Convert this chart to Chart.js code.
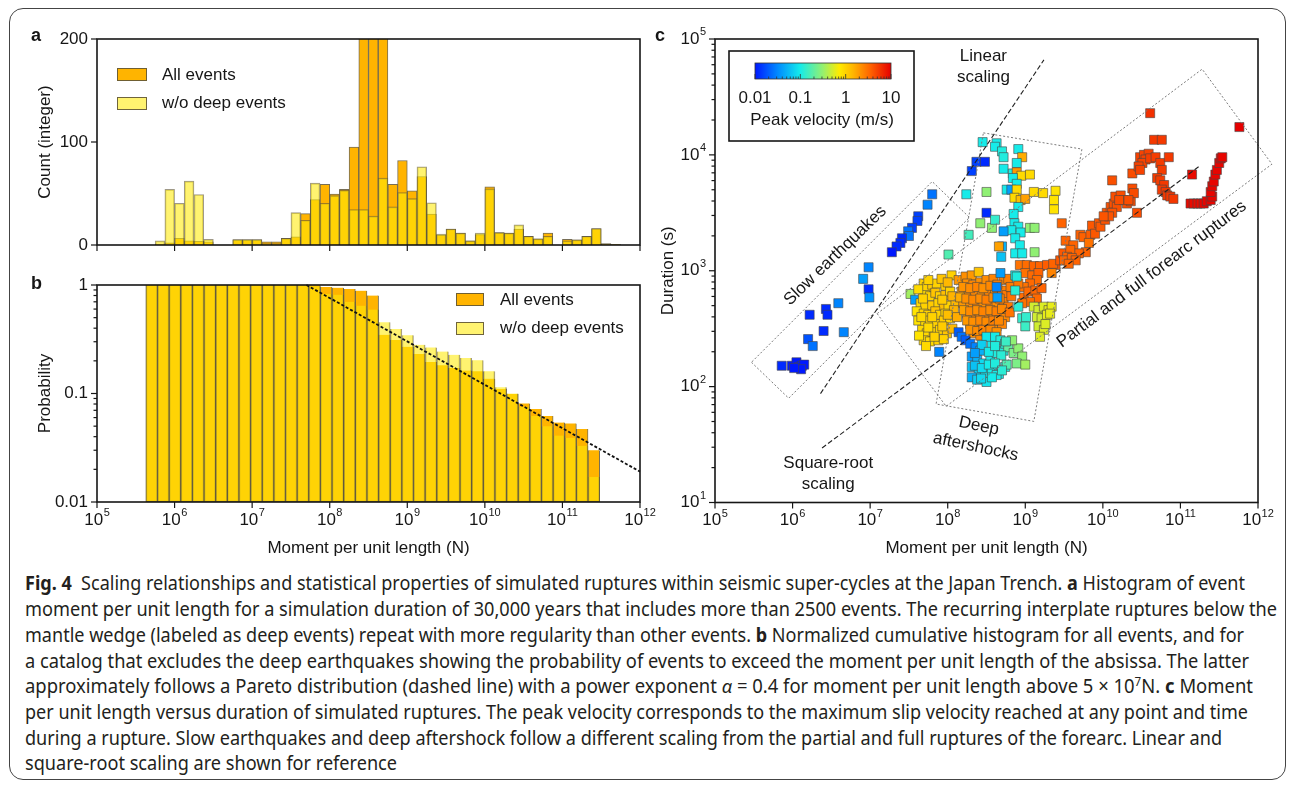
<!DOCTYPE html>
<html>
<head>
<meta charset="utf-8">
<title>Fig. 4</title>
<script src="https://cdn.jsdelivr.net/npm/chart.js@4.4.1/dist/chart.umd.min.js"></script>
<style>
  html, body { margin: 0; padding: 0; background: #fff; }
  body { width: 1295px; height: 789px; position: relative; overflow: hidden; }
  #frame { position: absolute; left: 9px; top: 8px; width: 1277px; height: 772px; border: 1px solid #444; border-radius: 14px; box-sizing: border-box; }
  canvas { position: absolute; }
  #histA { left: 0; top: 0; width: 660px; height: 270px; }
  #cumB { left: 0; top: 270px; width: 660px; height: 300px; }
  #scatC { left: 640px; top: 0; width: 655px; height: 570px; }
  .cap { position: absolute; left: 25px; white-space: nowrap; font-family: "Noto Sans", "Open Sans", sans-serif; font-size: 19px; line-height: 24px; color: #231f20; transform-origin: 0 50%; }
  .cap b { font-weight: 700; }
</style>
</head>
<body>
<div id="frame"></div>
<canvas id="histA" width="660" height="270"></canvas>
<canvas id="cumB" width="660" height="300"></canvas>
<canvas id="scatC" width="655" height="570"></canvas>

<div class="cap" data-w="1220" style="top:571px"><b>Fig. 4</b>&nbsp; Scaling relationships and statistical properties of simulated ruptures within seismic super-cycles at the Japan Trench. <b>a</b> Histogram of event</div>
<div class="cap" data-w="1252" style="top:597px">moment per unit length for a simulation duration of 30,000 years that includes more than 2500 events. The recurring interplate ruptures below the</div>
<div class="cap" data-w="1219" style="top:623px">mantle wedge (labeled as deep events) repeat with more regularity than other events. <b>b</b> Normalized cumulative histogram for all events, and for</div>
<div class="cap" data-w="1224" style="top:649px">a catalog that excludes the deep earthquakes showing the probability of events to exceed the moment per unit length of the absissa. The latter</div>
<div class="cap" data-w="1228" style="top:674px">approximately follows a Pareto distribution (dashed line) with a power exponent <i>α</i> = 0.4 for moment per unit length above 5 × 10<sup style="font-size:12px;line-height:0">7</sup>N. <b>c</b> Moment</div>
<div class="cap" data-w="1223" style="top:700px">per unit length versus duration of simulated ruptures. The peak velocity corresponds to the maximum slip velocity reached at any point and time</div>
<div class="cap" data-w="1197" style="top:726px">during a rupture. Slow earthquakes and deep aftershock follow a different scaling from the partial and full ruptures of the forearc. Linear and</div>
<div class="cap" data-w="372" style="top:751px">square-root scaling are shown for reference</div>

<script>
const FONT = '"Liberation Sans", Arial, Helvetica, sans-serif';
const INK = '#161616';
const ORANGE = '#ffb400';
const YELLOW = 'rgba(255,234,9,0.58)';
const EDGE = 'rgba(95,85,55,0.85)';
const EDGE2 = 'rgba(95,85,55,0.6)';
Chart.defaults.font.family = FONT;

// ---------- a: histogram, log10 of moment per unit length (bin left edges)
const histEdges = [5.75, 5.875, 6.0, 6.125, 6.25, 6.375, 6.5, 6.625, 6.75, 6.875, 7.0, 7.125, 7.25, 7.375, 7.5, 7.625, 7.75, 7.875, 8.0, 8.125, 8.25, 8.375, 8.5, 8.625, 8.75, 8.875, 9.0, 9.125, 9.25, 9.375, 9.5, 9.625, 9.75, 9.875, 10.0, 10.125, 10.25, 10.375, 10.5, 10.625, 10.75, 10.875, 11.0, 11.125, 11.25, 11.375, 11.5, 11.625];
const countAll = [1, 2, 6.5, 4, 3.5, 3, 0, 0, 4.5, 4.5, 4.5, 3, 3, 6.5, 8, 30.5, 44, 59, 49.5, 54, 95, 480, 620, 560, 59, 82, 52.5, 66.5, 30, 9.5, 15.5, 11.5, 4, 10, 56.5, 12, 11.5, 15.5, 8.5, 6, 11.5, 0, 5.5, 5, 8.5, 16, 1.5, 0.5];
const countNoDeep = [4, 54, 40.5, 62, 49, 5.5, 0, 0, 5.5, 5.5, 5.5, 1.5, 1.5, 6.5, 31.5, 24, 60, 40.5, 48, 53, 34.5, 34.5, 28, 65, 37, 51, 45, 76, 41, 10.5, 15.5, 11.5, 4, 11.5, 54.5, 12, 11.5, 19.5, 8.5, 6, 8.5, 0, 4, 5, 8.5, 16, 1, 0.5];
const countTicks = [0, 100, 200];

// ---------- b: cumulative histogram (probability to exceed)
const cumEdges = [5.63, 5.78, 5.93, 6.08, 6.23, 6.38, 6.53, 6.68, 6.83, 6.98, 7.13, 7.28, 7.43, 7.58, 7.73, 7.88, 8.03, 8.18, 8.33, 8.48, 8.63, 8.78, 8.93, 9.08, 9.23, 9.38, 9.53, 9.68, 9.83, 9.98, 10.13, 10.28, 10.43, 10.58, 10.73, 10.88, 11.03, 11.18, 11.33];
const probAll = [1, 1, 1, 1, 1, 1, 1, 1, 1, 1, 1, 1, 1, 1, 0.995, 0.96, 0.945, 0.92, 0.887, 0.80, 0.347, 0.312, 0.269, 0.231, 0.195, 0.182, 0.172, 0.163, 0.160, 0.137, 0.110, 0.099, 0.081, 0.072, 0.062, 0.054, 0.053, 0.047, 0.030];
const probNoDeep = [1, 1, 1, 1, 1, 1, 1, 1, 1, 1, 1, 1, 1, 1, 0.975, 0.83, 0.815, 0.70, 0.645, 0.593, 0.454, 0.394, 0.345, 0.281, 0.266, 0.244, 0.227, 0.212, 0.202, 0.160, 0.114, 0.100, 0.075, 0.062, 0.050, 0.041, 0.039, 0.033, 0.017];
const probTicks = [0, -1, -2];
const probLabels = ['1', '0.1', '0.01'];
const paretoStart = 7.7;   // log10(5e7 N)
const paretoAlpha = 0.4;

const momentDecades = [5, 6, 7, 8, 9, 10, 11, 12];

// ---------- c: ruptures [log10 moment, log10 duration, peak velocity m/s]
const slowQuakes = [
  [7.80,3.66,0.025],[7.74,3.57,0.03],[7.62,3.47,0.015],[7.61,3.43,0.015],[7.54,3.37,0.015],[7.49,3.34,0.025],[7.50,3.30,0.025],
  [7.41,3.28,0.012],[7.39,3.24,0.012],[7.34,3.21,0.012],[7.28,3.16,0.01],[6.98,3.03,0.03],[6.91,2.93,0.04],[6.98,2.84,0.012],
  [6.99,2.77,0.035],[6.59,2.72,0.03],[6.43,2.67,0.012],[6.45,2.62,0.012],[6.22,2.62,0.012],[6.40,2.48,0.012],[6.66,2.47,0.03],
  [6.20,2.41,0.018],[6.26,2.35,0.025],[5.86,2.18,0.012],[5.99,2.18,0.01],[6.05,2.21,0.01],[6.08,2.17,0.01],[6.12,2.18,0.01],
  [6.15,2.19,0.01],[6.11,2.15,0.01],[6.02,2.16,0.01]
];
const upperColumn = [
  [8.37,3.94,0.015],[8.48,3.94,0.012],[8.31,3.86,0.015],[8.50,3.50,0.012],
  [8.45,4.11,0.1],[8.63,4.10,0.1],[8.61,4.07,0.1],[8.70,4.03,0.11],[8.72,3.98,0.11],[8.91,4.05,0.1],[8.96,3.98,1.6],
  [8.89,3.93,0.1],[8.72,3.88,0.1],[8.84,3.84,0.11],[8.89,3.85,2.0],[8.95,3.82,0.9],[9.06,3.83,0.9],[8.84,3.80,0.1],
  [8.89,3.75,0.1],[8.76,3.70,0.1],[8.82,3.70,0.04],[8.89,3.70,0.9],[8.86,3.63,0.9],[8.94,3.61,1.3],[9.00,3.62,1.8],
  [9.11,3.68,0.9],[9.23,3.67,0.9],[9.39,3.69,0.8],[9.37,3.61,0.8],[9.37,3.53,0.8],[8.91,3.55,0.1],[8.85,3.49,0.1],
  [8.86,3.41,0.1],[8.91,3.38,0.1],[8.82,3.35,0.1],[8.94,3.33,0.1],[8.87,3.28,0.1],[8.93,3.22,0.1],[8.87,3.15,0.1],
  [8.96,3.15,0.1],[8.72,3.34,0.04],[8.70,3.21,0.05],[8.66,3.21,1.8],[8.69,3.12,0.06],[9.06,3.37,0.3],[9.12,3.37,0.3],
  [8.57,3.37,0.3],[8.42,3.41,0.3],[8.50,3.68,0.3],[8.24,3.66,0.1],[8.61,3.44,0.13],[8.27,3.31,0.15],[8.01,3.14,0.17],
  [9.12,3.16,0.3]
];
const yellowCluster = [
  [7.52,2.80,0.35],[7.58,2.75,0.04],[7.69,2.89,1.0],[7.73,2.86,1.0],[7.80,2.88,1.1],[7.86,2.89,1.0],[7.97,2.87,1.1],
  [8.05,2.96,1.0],[7.71,2.79,0.9],[7.77,2.78,1.0],[7.84,2.81,1.2],[7.90,2.78,1.0],[7.97,2.79,1.3],[8.03,2.82,1.0],
  [7.65,2.72,0.9],[7.71,2.69,1.0],[7.80,2.70,1.1],[7.88,2.72,1.0],[7.95,2.69,1.3],[8.01,2.70,1.0],[8.10,2.73,1.4],
  [7.60,2.65,0.8],[7.69,2.63,1.0],[7.75,2.62,1.0],[7.84,2.65,1.2],[7.90,2.62,1.0],[7.97,2.63,1.0],[8.08,2.66,1.5],
  [7.62,2.57,0.8],[7.71,2.54,0.9],[7.77,2.57,1.0],[7.86,2.54,1.0],[7.95,2.57,1.1],[8.03,2.59,1.0],[7.67,2.49,0.9],
  [7.73,2.46,0.9],[7.82,2.47,1.0],[7.90,2.49,1.0],[7.99,2.46,1.2],[7.69,2.40,0.9],[7.77,2.39,0.9],[7.88,2.40,1.0],
  [7.95,2.41,1.0],[7.62,2.84,0.9],[7.75,2.92,1.0],[7.92,2.93,1.2],[8.00,2.90,1.4],[7.68,2.76,1.0],[7.93,2.75,1.1],
  [8.06,2.78,1.5],[7.66,2.60,0.9],[7.80,2.60,1.0],[8.00,2.62,1.3],[8.12,2.60,1.6],[7.75,2.51,0.9],[7.93,2.52,1.1],
  [7.63,2.44,0.8],[7.83,2.43,1.0],[7.72,2.35,0.9],[8.06,2.50,1.4],[7.89,2.30,0.03],[8.14,2.47,0.02],[8.18,2.43,0.025]
];
const orangeCluster = [
  [8.14,2.92,2.0],[8.23,2.95,2.2],[8.31,2.96,2.0],[8.40,2.99,1.2],[8.25,2.89,2.2],[8.33,2.88,2.4],[8.42,2.90,2.2],
  [8.50,2.92,2.3],[8.59,2.93,2.5],[8.72,2.92,2.4],[8.78,2.93,2.6],[8.18,2.82,2.0],
  [8.27,2.80,2.3],[8.35,2.82,2.4],[8.44,2.79,2.2],[8.53,2.82,2.5],[8.61,2.80,2.3],[8.70,2.83,2.6],[8.76,2.79,2.8],
  [8.20,2.72,2.0],[8.29,2.70,2.3],[8.38,2.73,2.4],[8.46,2.69,2.2],[8.55,2.72,2.5],[8.63,2.70,2.3],[8.72,2.73,2.6],
  [8.78,2.69,2.8],[8.25,2.63,2.1],[8.33,2.60,2.4],[8.42,2.63,2.3],[8.50,2.60,2.5],[8.59,2.62,2.3],[8.68,2.63,2.6],
  [8.74,2.60,2.4],[8.29,2.54,2.2],[8.38,2.52,2.3],[8.46,2.53,2.4],[8.55,2.54,2.6],[8.63,2.52,2.3],[8.70,2.54,2.5],
  [8.33,2.46,2.2],[8.42,2.44,2.4],[8.50,2.47,2.3],[8.59,2.46,2.5],
  [8.20,2.86,2.1],[8.29,2.85,2.3],[8.38,2.86,2.5],[8.46,2.85,2.2],[8.55,2.87,2.4],[8.64,2.88,2.6],[8.81,2.86,2.7],
  [8.16,2.77,1.6],[8.24,2.76,2.2],[8.33,2.75,2.4],[8.42,2.76,2.3],[8.50,2.75,2.6],[8.59,2.77,2.4],[8.67,2.76,2.5],
  [8.82,2.78,3.0],[8.21,2.66,1.8],[8.29,2.65,2.3],[8.38,2.66,2.2],[8.46,2.65,2.5],[8.55,2.66,2.3],[8.63,2.65,2.6],
  [8.70,2.67,2.4],[8.80,2.64,2.9],[8.25,2.57,2.0],[8.33,2.56,2.2],[8.42,2.57,2.4],[8.50,2.56,2.3],[8.59,2.57,2.6],
  [8.66,2.57,2.4],[8.29,2.49,2.1],[8.38,2.48,2.3],[8.46,2.49,2.5],[8.55,2.49,2.4],[8.63,2.47,2.2],
  [8.68,2.98,0.04],[8.87,2.96,0.1],[8.64,2.77,0.04],[8.63,2.86,0.03]
];
const deepAftershocks = [
  [8.23,2.40,0.02],[8.29,2.37,0.025],[8.36,2.34,0.03],[8.42,2.31,0.05],[8.31,2.26,0.04],[8.38,2.23,0.05],[8.46,2.20,0.08],
  [8.55,2.24,0.1],[8.63,2.29,0.11],[8.72,2.31,0.11],[8.57,2.37,0.1],[8.50,2.43,0.09],[8.61,2.43,0.1],[8.68,2.40,0.11],
  [8.74,2.37,0.12],[8.31,2.17,0.06],[8.40,2.13,0.07],[8.48,2.11,0.09],[8.57,2.14,0.1],[8.66,2.11,0.1],[8.74,2.17,0.11],
  [8.31,2.08,0.05],[8.38,2.06,0.07],[8.50,2.04,0.09],[8.63,2.10,0.1],[8.78,2.34,0.2],[8.85,2.29,0.25],[8.91,2.33,0.3],
  [8.96,2.26,0.3],[8.89,2.20,0.25],[9.00,2.19,0.35],[8.76,2.19,0.17],[8.83,2.40,0.3],[8.75,2.39,0.14],
  [8.44,2.36,0.07],[8.53,2.30,0.1],[8.61,2.35,0.11],[8.69,2.27,0.12],[8.35,2.18,0.06],[8.44,2.16,0.08],[8.53,2.19,0.1],
  [8.61,2.20,0.11],[8.70,2.14,0.12],[8.43,2.07,0.08],[8.57,2.08,0.1],[8.35,2.29,0.04]
];
const rightCluster = [
  [8.93,3.05,3.0],[9.02,3.05,3.2],[9.11,3.04,3.5],[9.19,3.04,3.5],[9.28,3.05,3.8],[9.39,3.05,4.0],[9.34,2.98,2.5],
  [9.00,2.98,3.0],[9.09,2.96,3.3],[9.17,2.98,3.5],[9.15,2.92,3.2],[9.06,2.89,3.3],[8.98,2.86,3.0],[8.91,2.89,2.8],
  [8.98,2.77,3.2],[9.04,2.82,3.3],[9.13,2.83,3.4],[9.21,2.85,3.5],[9.15,2.76,3.3],[9.06,2.73,3.1],[8.96,2.72,3.0],
  [8.89,2.95,0.11],[8.87,2.83,0.12],[8.91,2.69,0.12],[8.96,2.59,0.13],[9.00,2.52,0.14],[9.01,2.60,0.13],
  [9.11,2.69,0.5],[9.17,2.66,0.5],[9.24,2.69,0.55],[9.30,2.66,0.6],[9.34,2.69,0.6],[9.15,2.60,0.5],[9.21,2.59,0.5],
  [9.28,2.62,0.6],[9.32,2.63,0.6],[9.17,2.52,0.5],[9.24,2.49,0.55],[9.19,2.43,0.55],[9.26,2.54,0.55]
];
const forearcStreak = [
  [9.36,3.06,3.5],[9.45,3.09,4.0],[9.49,3.15,4.0],[9.47,3.41,3.5],[9.52,3.26,3.5],[9.62,3.22,3.5],[9.71,3.31,3.6],
  [9.75,3.29,3.6],[9.84,3.31,3.8],[9.82,3.24,3.0],[9.78,3.16,3.5],[9.69,3.15,3.5],[9.58,3.18,3.4],[9.54,3.12,3.4],
  [9.50,3.09,3.4],[9.60,3.11,3.5],[9.65,3.09,3.5],[9.56,3.06,3.4],[9.86,3.39,4.0],[9.95,3.41,4.0],[9.90,3.32,4.0],
  [9.97,3.38,4.0],[10.03,3.44,4.2],[10.05,3.50,4.2],[10.10,3.55,4.3],[10.14,3.58,4.3],[10.18,3.55,4.3],[10.16,3.64,4.4],
  [10.23,3.65,4.4],[10.27,3.61,4.4],[10.31,3.58,4.5],[10.36,3.60,4.5],[10.21,3.61,4.4],[10.12,3.50,4.2],[10.08,3.47,4.2],
  [10.01,3.47,4.1],[10.12,3.78,4.3],[10.38,3.84,4.5],[10.38,3.71,4.5],[10.40,3.67,4.5],[10.33,3.61,4.5],[10.44,3.50,4.5],
  [10.48,3.98,5.0],[10.53,4.00,5.0],[10.59,4.01,5.0],[10.55,3.96,5.0],[10.51,3.93,5.0],[10.46,3.90,5.0],[10.48,3.87,5.0],
  [10.61,3.97,5.2],[10.68,3.98,5.2],[10.74,3.93,5.3],[10.76,3.87,5.3],[10.85,3.98,5.5],[10.66,4.13,5.5],[10.76,4.13,5.5],
  [10.61,4.36,6.0],[10.70,3.80,5.3],[10.74,3.78,5.3],[10.79,3.74,5.5],[10.76,3.70,5.5],[10.81,3.68,5.5],[10.83,3.65,5.5],
  [10.87,3.64,5.6],[10.91,3.62,5.6]
];
const redRuptures = [
  [11.15,3.83,9],[11.13,3.58,9],[11.17,3.58,9],[11.22,3.58,9],[11.26,3.58,9],[11.30,3.58,9.5],[11.34,3.60,9.5],
  [11.39,3.61,9.5],[11.41,3.64,9.5],[11.39,3.68,9.5],[11.41,3.73,9.5],[11.43,3.77,9.5],[11.45,3.83,9.5],[11.47,3.87,9.5],
  [11.50,3.93,9.5],[11.52,3.97,9.5],[11.54,3.98,9.5],[11.76,4.24,10]
];
const durationDecades = [1, 2, 3, 4, 5];
const velTicks = [0.01, 0.1, 1, 10];
const velLabels = ['0.01', '0.1', '1', '10'];

// reference lines and outlined groups (log10 moment, log10 duration)
const linearLine = [[6.36, 1.94], [9.24, 4.82]];
const sqrtLine = [[6.38, 1.47], [11.24, 3.90]];
const slowBox = [[5.47, 2.21], [5.95, 1.90], [8.28, 3.46], [7.80, 3.77]];
const deepBox = [[8.46, 4.19], [9.73, 4.05], [9.11, 1.70], [7.85, 1.85]];
const forearcBox = [[7.09, 2.63], [7.98, 1.83], [12.18, 3.92], [11.28, 4.74]];
const annotLabels = [
  { text: 'Linear', m: 8.46, d: 4.85, rot: 0 },
  { text: 'scaling', m: 8.46, d: 4.67, rot: 0 },
  { text: 'Square-root', m: 6.46, d: 1.34, rot: 0 },
  { text: 'scaling', m: 6.46, d: 1.16, rot: 0 },
  { text: 'Deep', m: 8.40, d: 1.66, rot: 12 },
  { text: 'aftershocks', m: 8.36, d: 1.48, rot: 12 },
  { text: 'Slow earthquakes', m: 6.55, d: 3.13, rot: -44 },
  { text: 'Partial and full forearc ruptures', m: 10.63, d: 2.97, rot: -37 }
];

// rainbow colour map over log10(0.01..10)
const velStops = [
  [0.00, [0, 24, 255]], [0.17, [0, 140, 255]], [0.33, [20, 235, 235]], [0.50, [150, 240, 110]],
  [0.62, [255, 235, 0]], [0.72, [255, 182, 0]], [0.85, [255, 98, 0]], [1.00, [230, 0, 0]]
];
function velColor(v) {
  const t = Math.min(1, Math.max(0, (Math.log10(v) + 2) / 3));
  for (let i = 1; i < velStops.length; i++) {
    if (t <= velStops[i][0]) {
      const t0 = velStops[i - 1][0], c0 = velStops[i - 1][1], t1 = velStops[i][0], c1 = velStops[i][1];
      const f = (t - t0) / (t1 - t0);
      return 'rgb(' + c0.map((c, j) => Math.round(c + f * (c1[j] - c))).join(',') + ')';
    }
  }
  return 'rgb(230,0,0)';
}

// ---------- drawing helpers
function frameBox(ctx, a) {
  ctx.save();
  ctx.strokeStyle = INK; ctx.lineWidth = 1.6; ctx.setLineDash([]);
  ctx.strokeRect(a.left, a.top, a.right - a.left, a.bottom - a.top);
  ctx.restore();
}
function tickDown(ctx, x, y0, len) { ctx.beginPath(); ctx.moveTo(x, y0); ctx.lineTo(x, y0 + len); ctx.stroke(); }
function tickLeft(ctx, x0, y, len) { ctx.beginPath(); ctx.moveTo(x0, y); ctx.lineTo(x0 - len, y); ctx.stroke(); }
function text(ctx, s, x, y, align, size, weight, rot) {
  ctx.save();
  ctx.translate(x, y);
  if (rot) ctx.rotate(rot * Math.PI / 180);
  ctx.font = (weight || 'normal') + ' ' + (size || 17) + 'px ' + FONT;
  ctx.textAlign = align || 'center';
  ctx.textBaseline = 'middle';
  ctx.fillStyle = INK;
  ctx.fillText(s, 0, 0);
  ctx.restore();
}
function pow10(ctx, x, y, exp, align) {
  ctx.save();
  ctx.textBaseline = 'middle';
  ctx.textAlign = 'left';
  ctx.fillStyle = INK;
  ctx.font = '17px ' + FONT;
  const w1 = ctx.measureText('10').width;
  ctx.font = '11px ' + FONT;
  const w2 = ctx.measureText(String(exp)).width;
  const total = w1 + w2 + 0.5;
  const x0 = align === 'right' ? x - total : x - total / 2;
  ctx.font = '17px ' + FONT;
  ctx.fillText('10', x0, y);
  ctx.font = '11px ' + FONT;
  ctx.fillText(String(exp), x0 + w1 + 0.5, y - 7);
  ctx.restore();
}
function legendSwatch(ctx, x, y, w, h, fill) {
  ctx.save();
  ctx.fillStyle = fill; ctx.fillRect(x, y, w, h);
  ctx.strokeStyle = 'rgba(95,85,55,0.9)'; ctx.lineWidth = 1;
  ctx.strokeRect(x + 0.5, y + 0.5, w - 1, h - 1);
  ctx.restore();
}
function minorDecades(decades) {
  const out = [];
  decades.slice(0, -1).forEach(d => [2, 3, 4, 5, 6, 7, 8, 9].forEach(k => out.push(d + Math.log10(k))));
  return out;
}

// ---------- panel a
const axisA = {
  id: 'axisA',
  afterDraw(chart) {
    const { ctx, chartArea: ca, scales: { x, y } } = chart;
    frameBox(ctx, ca);
    ctx.save();
    ctx.strokeStyle = INK; ctx.lineWidth = 1.2;
    momentDecades.forEach(d => tickDown(ctx, x.getPixelForValue(d), ca.bottom, 6));
    countTicks.forEach(v => {
      const py = y.getPixelForValue(v);
      tickLeft(ctx, ca.left, py, 6);
      text(ctx, String(v), ca.left - 9, py, 'right');
    });
    ctx.restore();
    text(ctx, 'Count (integer)', ca.left - 52, (ca.top + ca.bottom) / 2, 'center', 17, 'normal', -90);
    text(ctx, 'a', 31, 36, 'left', 18, 'bold');
    legendSwatch(ctx, 117, 68, 30, 13, ORANGE);
    legendSwatch(ctx, 117, 97, 30, 13, YELLOW);
    text(ctx, 'All events', 162, 75, 'left');
    text(ctx, 'w/o deep events', 162, 103.5, 'left');
  }
};

const histWidth = histEdges[1] - histEdges[0];
new Chart(document.getElementById('histA'), {
  type: 'bar',
  data: {
    datasets: [
      { label: 'All events', data: histEdges.map((e, i) => ({ x: e + histWidth / 2, y: countAll[i] })),
        backgroundColor: ORANGE, borderColor: EDGE, borderWidth: 1, order: 2, clip: 0 },
      { label: 'w/o deep events', data: histEdges.map((e, i) => ({ x: e + histWidth / 2, y: countNoDeep[i] })),
        backgroundColor: YELLOW, borderColor: EDGE2, borderWidth: 1, order: 1, clip: 0 }
    ]
  },
  options: {
    responsive: false, animation: false, devicePixelRatio: 1,
    layout: { padding: { left: 97, top: 39, right: 20, bottom: 25 } },
    plugins: { legend: { display: false }, tooltip: { enabled: false } },
    datasets: { bar: { barPercentage: 1, categoryPercentage: 1, grouped: false } },
    scales: {
      x: { type: 'linear', min: 5, max: 12, offset: false, display: false },
      y: { min: 0, max: 200, display: false }
    }
  },
  plugins: [axisA]
});

// ---------- panel b
const axisB = {
  id: 'axisB',
  afterDatasetsDraw(chart) {
    const { ctx, scales: { x, y } } = chart;
    ctx.save();
    ctx.strokeStyle = '#111'; ctx.lineWidth = 1.8; ctx.setLineDash([3, 2]);
    ctx.beginPath();
    ctx.moveTo(x.getPixelForValue(paretoStart), y.getPixelForValue(0));
    ctx.lineTo(x.getPixelForValue(12), y.getPixelForValue(-paretoAlpha * (12 - paretoStart)));
    ctx.stroke();
    ctx.restore();
  },
  afterDraw(chart) {
    const { ctx, chartArea: ca, scales: { x, y } } = chart;
    frameBox(ctx, ca);
    ctx.save();
    ctx.strokeStyle = INK; ctx.lineWidth = 1.2;
    momentDecades.forEach(d => {
      const px = x.getPixelForValue(d);
      tickDown(ctx, px, ca.bottom, 6);
      pow10(ctx, px, ca.bottom + 18, d, 'center');
    });
    probTicks.forEach((v, i) => {
      const py = y.getPixelForValue(v);
      tickLeft(ctx, ca.left, py, 6);
      text(ctx, probLabels[i], ca.left - 9, py, 'right');
    });
    minorDecades([-2, -1, 0]).forEach(v => tickLeft(ctx, ca.left, y.getPixelForValue(v), 3.5));
    ctx.restore();
    text(ctx, 'Probability', ca.left - 52, (ca.top + ca.bottom) / 2, 'center', 17, 'normal', -90);
    text(ctx, 'Moment per unit length (N)', (ca.left + ca.right) / 2, ca.bottom + 46, 'center');
    text(ctx, 'b', 31, 14, 'left', 18, 'bold');
    legendSwatch(ctx, 456, 23, 28, 13, ORANGE);
    legendSwatch(ctx, 456, 52, 28, 13, YELLOW);
    text(ctx, 'All events', 500, 30, 'left');
    text(ctx, 'w/o deep events', 500, 58.5, 'left');
  }
};

const cumWidth = cumEdges[1] - cumEdges[0];
new Chart(document.getElementById('cumB'), {
  type: 'bar',
  data: {
    datasets: [
      { label: 'All events', data: cumEdges.map((e, i) => ({ x: e + cumWidth / 2, y: [-2, Math.log10(probAll[i])] })),
        backgroundColor: ORANGE, borderColor: EDGE, borderWidth: 1, order: 2, clip: 0 },
      { label: 'w/o deep events', data: cumEdges.map((e, i) => ({ x: e + cumWidth / 2, y: [-2, Math.log10(probNoDeep[i])] })),
        backgroundColor: YELLOW, borderColor: EDGE2, borderWidth: 1, order: 1, clip: 0 }
    ]
  },
  options: {
    responsive: false, animation: false, devicePixelRatio: 1,
    layout: { padding: { left: 97, top: 15, right: 20, bottom: 68 } },
    plugins: { legend: { display: false }, tooltip: { enabled: false } },
    datasets: { bar: { barPercentage: 1, categoryPercentage: 1, grouped: false } },
    scales: {
      x: { type: 'linear', min: 5, max: 12, offset: false, display: false },
      y: { min: -2, max: 0, display: false }
    }
  },
  plugins: [axisB]
});

// ---------- panel c
const axisC = {
  id: 'axisC',
  afterDatasetsDraw(chart) {
    const { ctx, scales: { x, y } } = chart;
    const P = p => [x.getPixelForValue(p[0]), y.getPixelForValue(p[1])];
    ctx.save();
    ctx.strokeStyle = '#7a7a7a'; ctx.lineWidth = 1; ctx.setLineDash([2, 2]);
    [slowBox, deepBox, forearcBox].forEach(box => {
      ctx.beginPath();
      box.forEach((p, i) => { const q = P(p); if (i) ctx.lineTo(q[0], q[1]); else ctx.moveTo(q[0], q[1]); });
      ctx.closePath();
      ctx.stroke();
    });
    ctx.strokeStyle = '#222'; ctx.lineWidth = 1.1; ctx.setLineDash([5, 2.5]);
    [linearLine, sqrtLine].forEach(line => {
      const a = P(line[0]), b = P(line[1]);
      ctx.beginPath(); ctx.moveTo(a[0], a[1]); ctx.lineTo(b[0], b[1]); ctx.stroke();
    });
    ctx.restore();
    annotLabels.forEach(l => { const q = P([l.m, l.d]); text(ctx, l.text, q[0], q[1], 'center', 17, 'normal', l.rot); });
  },
  afterDraw(chart) {
    const { ctx, chartArea: ca, scales: { x, y } } = chart;
    frameBox(ctx, ca);
    ctx.save();
    ctx.strokeStyle = INK; ctx.lineWidth = 1.2;
    momentDecades.forEach(d => {
      const px = x.getPixelForValue(d);
      tickDown(ctx, px, ca.bottom, 6);
      pow10(ctx, px, ca.bottom + 18, d, 'center');
    });
    durationDecades.forEach(d => {
      const py = y.getPixelForValue(d);
      tickLeft(ctx, ca.left, py, 6);
      pow10(ctx, ca.left - 9, py, d, 'right');
    });
    minorDecades(durationDecades).forEach(v => tickLeft(ctx, ca.left, y.getPixelForValue(v), 3.5));
    ctx.restore();
    text(ctx, 'Duration (s)', ca.left - 47, (ca.top + ca.bottom) / 2, 'center', 17, 'normal', -90);
    text(ctx, 'Moment per unit length (N)', (ca.left + ca.right) / 2, ca.bottom + 46, 'center');
    text(ctx, 'c', 15, 36, 'left', 18, 'bold');

    // colour bar legend
    const bx = ca.left + 14, by = ca.top + 12, bw = 185, bh = 90;
    ctx.save();
    ctx.fillStyle = '#fff'; ctx.fillRect(bx, by, bw, bh);
    ctx.strokeStyle = INK; ctx.lineWidth = 1.6; ctx.strokeRect(bx, by, bw, bh);
    const gx0 = bx + 26, gx1 = bx + 162, gy = by + 12, gh = 16;
    const grad = ctx.createLinearGradient(gx0, 0, gx1, 0);
    velStops.forEach(s => grad.addColorStop(s[0], 'rgb(' + s[1].join(',') + ')'));
    ctx.fillStyle = grad; ctx.fillRect(gx0, gy, gx1 - gx0, gh);
    ctx.strokeStyle = '#333'; ctx.lineWidth = 0.8; ctx.strokeRect(gx0, gy, gx1 - gx0, gh);
    const vx = v => gx0 + (Math.log10(v) + 2) / 3 * (gx1 - gx0);
    ctx.lineWidth = 0.8;
    velTicks.forEach((v, i) => {
      ctx.beginPath(); ctx.moveTo(vx(v), gy + gh); ctx.lineTo(vx(v), gy + gh - 5); ctx.stroke();
      text(ctx, velLabels[i], vx(v), by + 47, 'center');
    });
    minorDecades([-2, -1, 0, 1]).forEach(lv => {
      const px = gx0 + (lv + 2) / 3 * (gx1 - gx0);
      ctx.beginPath(); ctx.moveTo(px, gy + gh); ctx.lineTo(px, gy + gh - 2.5); ctx.stroke();
    });
    ctx.restore();
    text(ctx, 'Peak velocity (m/s)', bx + 93, by + 69, 'center');
  }
};

const ruptures = [].concat(slowQuakes, upperColumn, yellowCluster, orangeCluster, deepAftershocks, rightCluster, forearcStreak, redRuptures);
new Chart(document.getElementById('scatC'), {
  type: 'scatter',
  data: {
    datasets: [{
      label: 'Ruptures',
      data: ruptures.map(p => ({ x: p[0], y: p[1] })),
      pointStyle: 'rect',
      pointRadius: 6.4,
      pointBorderWidth: 1,
      pointBackgroundColor: ruptures.map(p => velColor(p[2])),
      pointBorderColor: 'rgba(70,70,70,0.6)'
    }]
  },
  options: {
    responsive: false, animation: false, devicePixelRatio: 1,
    layout: { padding: { left: 75, top: 39, right: 37, bottom: 67.5 } },
    plugins: { legend: { display: false }, tooltip: { enabled: false } },
    scales: {
      x: { type: 'linear', min: 5, max: 12, display: false },
      y: { type: 'linear', min: 1, max: 5, display: false }
    }
  },
  plugins: [axisC]
});

// squeeze caption lines to the widths of the printed lines
document.querySelectorAll('.cap').forEach(el => {
  const w = el.getBoundingClientRect().width;
  el.style.transform = 'scaleX(' + (el.dataset.w / w).toFixed(4) + ')';
});
</script>
</body>
</html>
